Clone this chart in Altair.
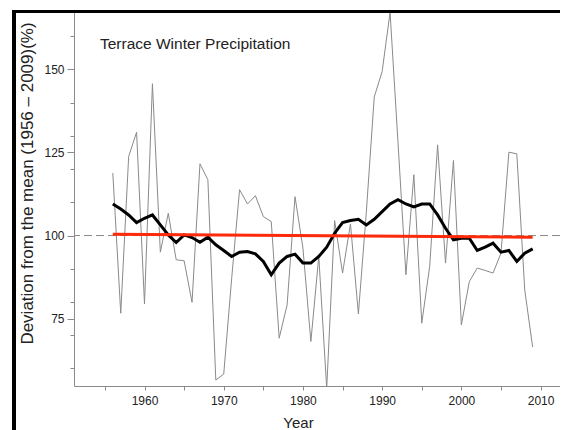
import altair as alt
import pandas as pd

years = list(range(1956, 2010))
annual = [118.8, 76.6, 123.8, 131.1, 79.4, 145.7, 95.0, 106.7, 92.7, 92.4,
          79.9, 121.6, 116.8, 56.5, 58.3, 87.0, 113.8, 109.5, 112.0, 105.7,
          104.2, 69.1, 79.1, 111.7, 96.2, 68.1, 93.7, 54.0, 104.5, 88.7,
          103.5, 76.4, 107.0, 141.7, 149.4, 167.2, 128.0, 88.2, 118.3, 73.6,
          90.7, 127.3, 91.7, 122.6, 73.1, 86.1, 90.2, 89.5, 88.7, 94.7,
          125.1, 124.6, 83.6, 66.4]
smooth = [109.5, 108.0, 106.2, 103.9, 105.2, 106.2, 103.2, 100.2, 97.9, 100.2,
          99.4, 98.0, 99.5, 97.2, 95.5, 93.7, 95.0, 95.2, 94.5, 92.2,
          88.2, 91.7, 93.7, 94.4, 91.7, 91.7, 93.7, 96.5, 100.7, 103.9,
          104.5, 104.9, 103.2, 104.9, 107.2, 109.5, 110.8, 109.5, 108.6, 109.5,
          109.5, 106.2, 102.2, 98.7, 99.2, 99.2, 95.5, 96.5, 97.7, 95.0,
          95.5, 92.2, 94.7, 96.0]
trend_years = [1956, 2009]
trend_values = [100.4, 99.5]
mean_value = [100]
x_ticks = list(range(1955, 2011, 5))
y_ticks = [60, 70, 75, 80, 90, 100, 110, 120, 125, 130, 140, 150, 160]
title_text = "Terrace Winter Precipitation"

df_annual = pd.DataFrame({"year": years, "value": annual})
df_smooth = pd.DataFrame({"year": years, "value": smooth})
df_trend = pd.DataFrame({"year": trend_years, "value": trend_values})
df_mean = pd.DataFrame({"value": mean_value})
df_one = pd.DataFrame({"k": [0]})

GREY = "#8a8a8a"
FONT = "Liberation Sans"

X = alt.X(
    "year:Q",
    scale=alt.Scale(domain=[1951.1, 2012.45], nice=False, zero=False),
    axis=alt.Axis(
        values=x_ticks,
        format="d",
        labelExpr="datum.value % 10 === 0 ? datum.label : ''",
        tickSize=4,
        tickColor=GREY,
        domainColor=GREY,
        labelColor="#222",
        labelFontSize=12,
        labelFont=FONT,
        labelPadding=5,
        grid=False,
        title="Year",
        titleFont=FONT,
        titleFontSize=15,
        titleFontWeight="normal",
        titleColor="#222",
        titleX=224,
        titleY=41,
        titleBaseline="alphabetic",
        titleAlign="center",
    ),
)
Y = alt.Y(
    "value:Q",
    scale=alt.Scale(domain=[54.7, 167.3], nice=False, zero=False),
    axis=alt.Axis(
        values=y_ticks,
        labelExpr="datum.value % 25 === 0 ? datum.label : ''",
        tickSize={"condition": {"test": "datum.value % 25 === 0", "value": 7}, "value": 4},
        tickColor=GREY,
        domainColor=GREY,
        labelColor="#222",
        labelFontSize=12,
        labelFont=FONT,
        labelPadding=3,
        grid=False,
        title="Deviation from the mean (1956 \u2013 2009)(%)",
        titleFont=FONT,
        titleFontSize=17,
        titleFontWeight="normal",
        titleColor="#222",
        titleAngle=270,
        titleX=-42,
        titleY=171,
        titleAlign="center",
        titleBaseline="alphabetic",
    ),
)

mean_rule = alt.Chart(df_mean).mark_rule(color=GREY, strokeDash=[8, 4], strokeWidth=1).encode(y=Y)
annual_line = alt.Chart(df_annual).mark_line(color=GREY, strokeWidth=1, clip=True).encode(x=X, y=Y)
smooth_line = alt.Chart(df_smooth).mark_line(color="black", strokeWidth=3).encode(x=X, y=Y)
trend_line = alt.Chart(df_trend).mark_line(color="#ff2a0a", strokeWidth=3).encode(x=X, y=Y)

title_mark = alt.Chart(df_one).mark_text(
    align="left", baseline="alphabetic", fontSize=15.5, font=FONT, color="#222"
).encode(x=alt.value(26), y=alt.value(37), text=alt.value(title_text))

border_top = alt.Chart(df_one).mark_rule(color="black", strokeWidth=3).encode(
    x=alt.value(-62), x2=alt.value(490), y=alt.value(-0.5)
)
border_left = alt.Chart(df_one).mark_rule(color="black", strokeWidth=4).encode(
    x=alt.value(-60), y=alt.value(-2), y2=alt.value(430)
)

chart = alt.layer(
    mean_rule, annual_line, smooth_line, trend_line, title_mark, border_top, border_left
).properties(
    width=486,
    height=374,
    padding={"left": 66, "top": 4, "right": 0, "bottom": 44},
    autosize=alt.AutoSizeParams(type="none"),
).configure_view(stroke=None)

chart.save("out.html", embed_options={"renderer": "svg", "actions": False})
